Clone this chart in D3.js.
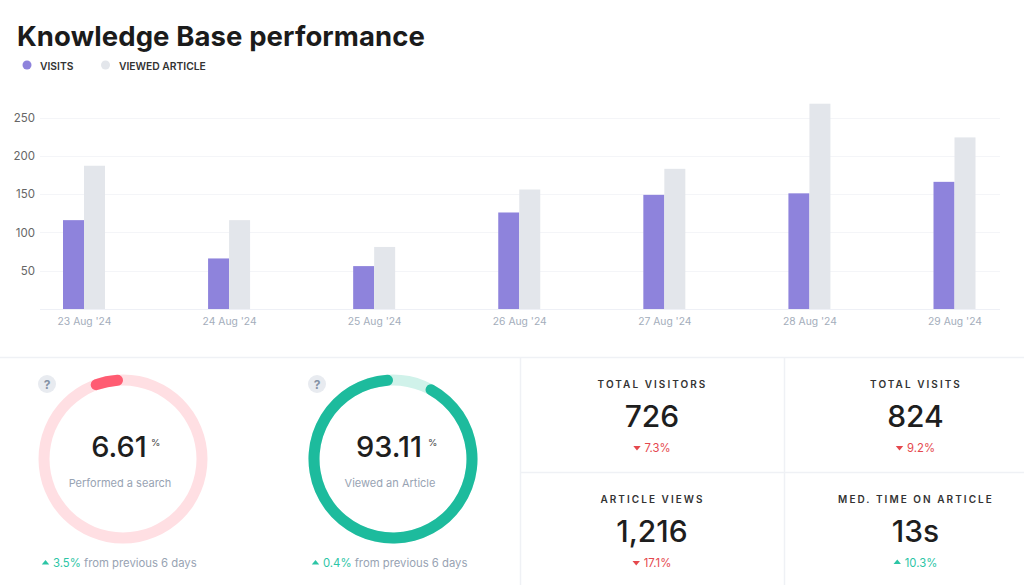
<!DOCTYPE html>
<html><head><meta charset="utf-8">
<script src="https://cdn.jsdelivr.net/npm/d3@7"></script>
<style>
html,body{margin:0;padding:0;background:#fff;overflow:hidden}
svg{display:block}
text{font-family:Inter,"Noto Sans",sans-serif}
.axis path,.axis line{display:none}
</style></head><body>
<svg id="c" width="1024" height="585"></svg>
<script>
const dates=["23 Aug '24","24 Aug '24","25 Aug '24","26 Aug '24","27 Aug '24","28 Aug '24","29 Aug '24"];
const visits=[116,66,56,126,149,151,166];
const viewedArticle=[187,116,81,156,183,268,224];
const yTicks=[50,100,150,200,250];
const legendLabels=["VISITS","VIEWED ARTICLE"];
const seriesColors=["#8e83dc","#e3e6eb"];
const donutValues=[6.61,93.11];
const donutLabels=["Performed a search","Viewed an Article"];
const donutChanges=["3.5%","0.4%"];
const statTitles=["TOTAL VISITORS","TOTAL VISITS","ARTICLE VIEWS","MED. TIME ON ARTICLE"];
const statValues=["726","824","1,216","13s"];
const statChanges=["7.3%","9.2%","17.1%","10.3%"];
const statUp=[false,false,false,true];

const RED="#e5484d",GREEN="#2cc5a5";
const svg=d3.select("#c");
const L=40,R=1000,B=309,yTop=118,yTopVal=250;
const y=d3.scaleLinear().domain([0,yTopVal]).range([B,yTop-0.5]);
const x=d3.scalePoint().domain(dates).range([84,954.5]);
const barW=21;

svg.append("text").text("Knowledge Base performance").attr("x",17).attr("y",46)
  .attr("font-size",27.5).attr("font-weight",700).attr("fill","#1b1b1b").attr("id","title")
  .attr("textLength",408).attr("lengthAdjust","spacing");

[[27,40],[105.5,119]].forEach((p,i)=>{
  svg.append("circle").attr("cx",p[0]).attr("cy",65).attr("r",4.5).attr("fill",seriesColors[i]);
  svg.append("text").text(legendLabels[i]).attr("x",p[1]).attr("y",69.5).attr("font-size",10.3).attr("font-weight",600).attr("fill","#333");
});

svg.append("g").selectAll("line").data(yTicks).join("line")
  .attr("x1",L).attr("x2",R).attr("y1",d=>Math.round(y(d))+.5).attr("y2",d=>Math.round(y(d))+.5).attr("stroke","#f4f5f8");
svg.append("line").attr("x1",L).attr("x2",R).attr("y1",B+.5).attr("y2",B+.5).attr("stroke","#eef0f6");

const yAxis=svg.append("g").attr("class","axis").attr("transform",`translate(35,0)`)
  .call(d3.axisLeft(y).tickValues(yTicks).tickSize(0).tickPadding(0));
yAxis.selectAll("text").attr("font-size",11.5).attr("fill","#666").style("font-family","Inter,sans-serif");
const xAxis=svg.append("g").attr("class","axis").attr("transform",`translate(0,${B+8.5})`)
  .call(d3.axisBottom(x).tickSize(0).tickPadding(0));
xAxis.selectAll("text").attr("font-size",10.3).attr("fill","#a3adbb").style("font-family","Inter,sans-serif");

[visits,viewedArticle].forEach((s,k)=>{
  svg.append("g").selectAll("rect").data(s).join("rect")
    .attr("x",(d,i)=>x(dates[i])+(k===0?-barW:0)).attr("width",barW)
    .attr("y",d=>y(d)).attr("height",d=>B-y(d)).attr("fill",seriesColors[k]);
});

// dividers
const div="#eff1f5";
[[0,357,1024,357],[520,357,520,585],[784,357,784,585],[520,472,1024,472]].forEach(l=>{
  svg.append("line").attr("x1",l[0]+(l[0]===l[2]?.5:0)).attr("x2",l[2]+(l[0]===l[2]?.5:0))
    .attr("y1",l[1]+(l[1]===l[3]?.5:0)).attr("y2",l[3]+(l[1]===l[3]?.5:0)).attr("stroke",div).attr("stroke-width",1.5);
});

// donuts
const donutCx=[123,393],donutTrack=["#ffdfe3","#d0f2ea"],donutFill=["#ff5c72","#1dbb9d"];
const pctX=[28,35];
const tau=2*Math.PI;
const arc=d3.arc().innerRadius(73.5).outerRadius(84.5);
donutValues.forEach((v,i)=>{
  const g=svg.append("g").attr("transform",`translate(${donutCx[i]},459)`);
  g.append("path").attr("d",arc({startAngle:0,endAngle:tau})).attr("fill",donutTrack[i]);
  g.append("path").attr("d",arc.cornerRadius(5.5)({startAngle:-tau*v/100,endAngle:0})).attr("fill",donutFill[i]);
  arc.cornerRadius(0);
  g.append("text").attr("x",-4).attr("y",-2).attr("text-anchor","middle").attr("font-size",29).attr("font-weight",500).attr("fill","#1e1e1e").text(v.toFixed(2));
  g.append("text").text("%").attr("x",pctX[i]).attr("y",-13).attr("font-size",9.5).attr("fill","#444");
  g.append("text").text(donutLabels[i]).attr("x",-3).attr("y",28).attr("text-anchor","middle").attr("font-size",11).attr("fill","#98a3b3");
  // help icon
  svg.append("circle").attr("cx",donutCx[i]-76).attr("cy",384).attr("r",9).attr("fill","#e8ebf0");
  svg.append("text").text("?").attr("x",donutCx[i]-76).attr("y",388.5).attr("text-anchor","middle").attr("font-size",12).attr("font-weight",700).attr("fill","#8492a6");
  // change
  const bx=donutCx[i]-77;
  svg.append("path").attr("d",d3.symbol(d3.symbolTriangle,18)()).attr("transform",`translate(${bx-0.5},563) scale(1.15,.8)`).attr("fill",GREEN);
  const ct=svg.append("text").attr("x",bx+7).attr("y",567).attr("font-size",11.3).attr("fill","#98a3b3");
  ct.append("tspan").text(donutChanges[i]).attr("fill",GREEN);
  ct.append("tspan").text(" from previous 6 days");
});

// stats
const sx=[652.5,916],sy=[0,115];
statTitles.forEach((t,i)=>{
  const cx=sx[i%2],dy=sy[i>>1];
  svg.append("text").text(t).attr("x",cx).attr("y",387.5+dy).attr("text-anchor","middle").attr("font-size",10).attr("font-weight",600).attr("letter-spacing",2.05).attr("fill","#333");
  svg.append("text").text(statValues[i]).attr("x",cx-.5).attr("y",426.5+dy).attr("text-anchor","middle").attr("font-size",30).attr("font-weight",500).attr("fill","#1e1e1e");
  const col=statUp[i]?GREEN:RED;
  const c=svg.append("text").text(statChanges[i]).attr("x",cx+5).attr("y",451.5+dy).attr("text-anchor","middle").attr("font-size",11.3).attr("fill",col);
  const w=c.node().getComputedTextLength();
  svg.append("path").attr("d",d3.symbol(d3.symbolTriangle,18)())
    .attr("transform",`translate(${cx+5-w/2-7.5},${447.5+dy}) scale(1.15,${statUp[i]?.8:-.8})`).attr("fill",col);
});
</script></body></html>
